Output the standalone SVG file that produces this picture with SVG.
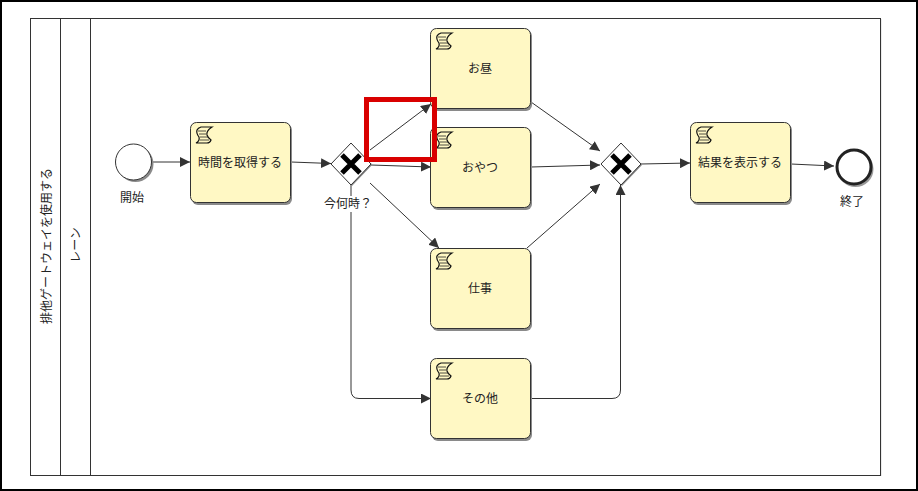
<svg xmlns="http://www.w3.org/2000/svg" width="918" height="491" viewBox="0 0 918 491">
<style>
text{font-family:"Noto Sans CJK JP","Liberation Sans",sans-serif;font-size:12px;fill:#222;text-anchor:middle}
.t{fill:#fff8c4;stroke:#333;stroke-width:1}
.s{fill:#8a8a8a}
.c{fill:none;stroke:#333;stroke-width:1;marker-end:url(#a)}
.ic{fill:#fff8c4;stroke:#111;stroke-width:1.2}
.x{stroke:#000;stroke-width:5;fill:none}
.g{fill:#fff;stroke:#333;stroke-width:1}
</style>
<defs>
<marker id="a" markerUnits="userSpaceOnUse" markerWidth="11" markerHeight="10" refX="10" refY="5" orient="auto"><path d="M0 0L10 5L0 10Z" fill="#333"/></marker>
<g id="sc"><path class="ic" d="M6 1H17Q11 5 12 9Q13 12 16 14Q15 17 12 17H1Q5 15 4 11Q1 7 2 4Q3 2 6 1Z"/><path d="M3 5H11M4 8H11M5 11H13M5 14H14" stroke="#222" stroke-width="0.8" fill="none"/></g>
</defs>
<rect width="918" height="491" fill="#fff"/>
<rect x="1" y="1" width="916" height="489" fill="none" stroke="#000" stroke-width="2"/>
<g id="pool">
<rect x="31" y="19" width="851" height="457" fill="#ddd" opacity="0.6"/>
<rect x="30.500" y="18.500" width="850" height="457" fill="#fff" stroke="#333"/>
<path d="M60.500 18.500V475.500M90.500 18.500V475.500" stroke="#333" fill="none"/>
<text transform="translate(46 246) rotate(-90)" dy="5">排他ゲートウェイを使用する</text>
<text transform="translate(76 245) rotate(-90)" dy="4">レーン</text>
</g>
<g id="connectors">
<path class="c" d="M152 162H190"/>
<path class="c" d="M291 162L331 163.500"/>
<path class="c" d="M370 150L431 104"/>
<path class="c" d="M371 165L431 167"/>
<path class="c" d="M370 183L439 248"/>
<path class="c" d="M351 184V390Q351 398.500 359 398.500H431"/>
<path class="c" d="M531 102L600 151"/>
<path class="c" d="M531 167L600 165"/>
<path class="c" d="M527 248L600 184"/>
<path class="c" d="M531 398.500H612Q620.500 398.500 620.500 390V185"/>
<path class="c" d="M641 164L690 163"/>
<path class="c" d="M791 164L834 166"/>
</g>
<g id="start"><circle cx="135.500" cy="164" r="18" class="s"/><circle cx="133.500" cy="162" r="18" fill="#fff" stroke="#333"/><text x="132" y="202">開始</text></g>
<g id="task1"><rect x="192" y="124" width="100" height="81" rx="6" class="s"/><rect x="190.500" y="122.500" width="100" height="80" rx="6" class="t"/><use href="#sc" x="195" y="126"/><text x="240" y="167">時間を取得する</text></g>
<g id="gw1"><path d="M372 165L352 186L351 185L371 163Z" class="s"/><path class="g" d="M351 143L371 164L351 185L331 164Z"/><path class="x" d="M342 155L360 173M360 155L342 173"/><rect x="324" y="196" width="48" height="16" fill="#fff"/><text x="348" y="208">今何時？</text></g>
<g id="task2"><rect x="432" y="30" width="100" height="81" rx="6" class="s"/><rect x="430.500" y="28.500" width="100" height="80" rx="6" class="t"/><use href="#sc" x="435" y="32"/><text x="480" y="73">お昼</text></g>
<g id="task3"><rect x="432" y="129" width="100" height="81" rx="6" class="s"/><rect x="430.500" y="127.500" width="100" height="80" rx="6" class="t"/><use href="#sc" x="435" y="131"/><text x="480" y="172">おやつ</text></g>
<g id="task4"><rect x="432" y="250" width="100" height="81" rx="6" class="s"/><rect x="430.500" y="248.500" width="100" height="80" rx="6" class="t"/><use href="#sc" x="435" y="252"/><text x="480" y="293">仕事</text></g>
<g id="task5"><rect x="432" y="360" width="100" height="81" rx="6" class="s"/><rect x="430.500" y="358.500" width="100" height="80" rx="6" class="t"/><use href="#sc" x="435" y="362"/><text x="480" y="403">その他</text></g>
<g id="gw2"><path d="M642 165L622 186L621 185L641 163Z" class="s"/><path class="g" d="M621 143L641 164L621 185L601 164Z"/><path class="x" d="M612 155L630 173M630 155L612 173"/></g>
<g id="task6"><rect x="692" y="124" width="100" height="81" rx="6" class="s"/><rect x="690.500" y="122.500" width="100" height="80" rx="6" class="t"/><use href="#sc" x="695" y="126"/><text x="740" y="167">結果を表示する</text></g>
<g id="end"><circle cx="855.500" cy="169" r="18" fill="#999"/><circle cx="854" cy="167" r="17" fill="#fff" stroke="#222" stroke-width="3"/><text x="852" y="206">終了</text></g>
<rect id="highlight" x="366.500" y="99.500" width="68" height="60" fill="none" stroke="#d90000" stroke-width="5"/>
</svg>
